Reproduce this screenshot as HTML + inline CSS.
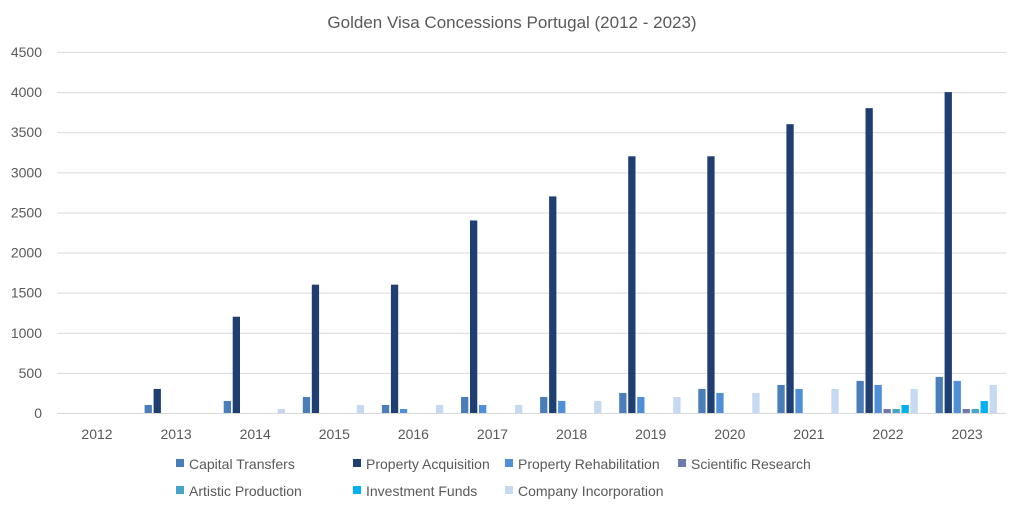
<!DOCTYPE html><html><head><style>body{margin:0;background:#fff}svg{font-family:"Liberation Sans",Calibri,sans-serif}</style></head><body>
<svg width="1024" height="514" xmlns="http://www.w3.org/2000/svg">
<text x="512" y="28" font-size="17" fill="#595959" text-anchor="middle">Golden Visa Concessions Portugal (2012 - 2023)</text>
<g id="grid" stroke="#d9d9d9" stroke-width="1"></g>
<g id="ylab" font-size="14" fill="#595959" text-anchor="end"></g>
<g id="bars"></g>
<g id="xlab" font-size="14" fill="#595959" text-anchor="middle"></g>
<g font-size="14" fill="#595959">
<rect x="176" y="459" width="8" height="8" fill="#4a7ebb"/><text x="189" y="469">Capital Transfers</text>
<rect x="353" y="459" width="8" height="8" fill="#1f3f73"/><text x="366" y="469">Property Acquisition</text>
<rect x="505" y="459" width="8" height="8" fill="#4f8fd8"/><text x="518" y="469">Property Rehabilitation</text>
<rect x="678" y="459" width="8" height="8" fill="#6f7aa8"/><text x="691" y="469">Scientific Research</text>
<rect x="176" y="486" width="8" height="8" fill="#46a3cc"/><text x="189" y="496">Artistic Production</text>
<rect x="353" y="486" width="8" height="8" fill="#00b0f0"/><text x="366" y="496">Investment Funds</text>
<rect x="505" y="486" width="8" height="8" fill="#c5d9f1"/><text x="518" y="496">Company Incorporation</text>
</g>
</svg>
<script>
const ns="http://www.w3.org/2000/svg";
function el(p,t,a,txt){const e=document.createElementNS(ns,t);for(const k in a)e.setAttribute(k,a[k]);if(txt!==undefined)e.textContent=txt;document.getElementById(p).appendChild(e);}
const y0=413,k=361/4500;
for(let v=0;v<=4500;v+=500){const y=y0-v*k;el("grid","line",{x1:57,x2:1006,y1:y+0.5,y2:y+0.5});el("ylab","text",{x:42,y:y+5},String(v));}
const cols=["#4a7ebb","#1f3f73","#4f8fd8","#6f7aa8","#46a3cc","#00b0f0","#c5d9f1"];
const d=[[0,0,0,0,0,0,0],[100,300,0,0,0,0,0],[150,1200,0,0,0,0,50],[200,1600,0,0,0,0,100],[100,1600,50,0,0,0,100],[200,2400,100,0,0,0,100],[200,2700,150,0,0,0,150],[250,3200,200,0,0,0,200],[300,3200,250,0,0,0,250],[350,3600,300,0,0,0,300],[400,3800,350,50,50,100,300],[450,4000,400,50,50,150,350]];
d.forEach((r,i)=>{const c=97+79.1*i;el("xlab","text",{x:c,y:439},String(2012+i));
r.forEach((v,j)=>{if(!v)return;const h=v*k;el("bars","rect",{x:c-31.5+j*9,y:y0-h,width:7.3,height:h,fill:cols[j]});});});
</script>
</body></html>
